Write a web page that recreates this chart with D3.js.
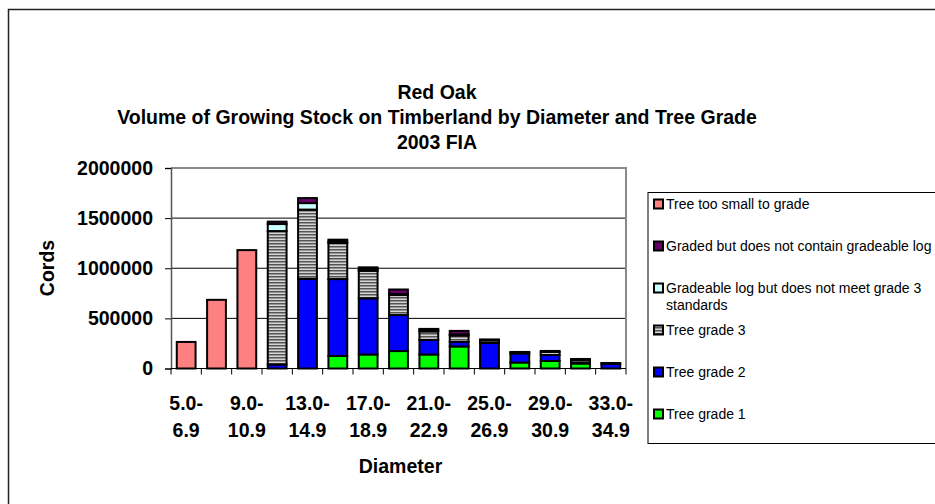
<!DOCTYPE html>
<html><head><meta charset="utf-8">
<script src="https://cdn.jsdelivr.net/npm/d3@7"></script>
<style>
html,body{margin:0;padding:0;background:#fff;}
svg{display:block;font-family:"Liberation Sans",Arial,sans-serif;}
</style></head>
<body>
<svg id="chart" width="935" height="504"></svg>
<script>
const categories = ["5.0-6.9","7.0-8.9","9.0-10.9","11.0-12.9","13.0-14.9","15.0-16.9","17.0-18.9","19.0-20.9","21.0-22.9","23.0-24.9","25.0-26.9","27.0-28.9","29.0-30.9","31.0-32.9","33.0-34.9"];
const treeGrade1 = [0,0,0,0,0,125000,140000,174000,140000,220000,0,60000,75000,50000,0];
const treeGrade2 = [0,0,0,40000,895000,767000,560000,359000,145000,45000,255000,90000,60000,10000,45000];
const treeGrade3 = [0,0,0,1331000,690000,360000,275000,200000,85000,65000,25000,10000,30000,25000,10000];
const gradeableNotMeet = [0,0,0,70000,65000,15000,14000,10000,15000,10000,0,0,0,0,0];
const gradedNoLog = [0,0,0,24000,50000,18000,20000,45000,10000,35000,10000,5000,10000,10000,0];
const tooSmall = [265000,685000,1181000,0,0,0,0,0,0,0,0,0,0,0,0];
const yTicks = [0,500000,1000000,1500000,2000000];
const seriesNames = ["Tree grade 1","Tree grade 2","Tree grade 3","Gradeable log but does not meet grade 3 standards","Graded but does not contain gradeable log","Tree too small to grade"];
const seriesValues = [treeGrade1,treeGrade2,treeGrade3,gradeableNotMeet,gradedNoLog,tooSmall];
const seriesColors = ["#00FF00","#0000FF","url(#g3)","#CCFFFF","#660066","#FF8080"];
const legendLines = [["Tree too small to grade"],["Graded but does not contain gradeable log"],["Gradeable log but does not meet grade 3","standards"],["Tree grade 3"],["Tree grade 2"],["Tree grade 1"]];

const svg = d3.select("#chart");
const defs = svg.append("defs");
const pat = defs.append("pattern").attr("id","g3").attr("patternUnits","userSpaceOnUse").attr("width",4).attr("height",3);
pat.append("rect").attr("width",4).attr("height",3).attr("fill","#d4d4d4");
pat.append("rect").attr("width",4).attr("height",1.5).attr("fill","#555555");

// outer border
svg.append("path").attr("d","M8.5,520 V9.5 H950").attr("fill","none").attr("stroke","#222").attr("stroke-width",1.5);

const L=171, R=626, T=168, B=368.5;
const FS = 19.5;
const x = d3.scaleBand().domain(categories).range([L,R]).paddingInner(0.38).paddingOuter(0.19);
const y = d3.scaleLinear().domain([0,2000000]).range([B,T]);
const step = x.step();

// gridlines
svg.append("g").selectAll("line").data(yTicks.filter(v=>v>0 && v<2000000)).join("line")
  .attr("x1",L).attr("x2",R).attr("y1",d=>y(d)).attr("y2",d=>y(d)).attr("stroke","#000").attr("stroke-width",1);
// top and right plot border
svg.append("path").attr("d",`M${L},${y(2000000)} H${R} V${B}`).attr("fill","none").attr("stroke","#8a8a8a").attr("stroke-width",2);

// stacked bars
const stackData = categories.map((c,i)=>{const o={cat:c}; seriesValues.forEach((s,j)=>o["s"+j]=s[i]); return o;});
const stack = d3.stack().keys(seriesValues.map((s,j)=>"s"+j))(stackData);
const gb = svg.append("g");
stack.forEach((layer,j)=>{
  gb.append("g").selectAll("rect").data(layer.filter(d=>d[1]-d[0]>0)).join("rect")
    .attr("x",d=>x(d.data.cat)).attr("width",x.bandwidth())
    .attr("y",d=>y(d[1])).attr("height",d=>y(d[0])-y(d[1]))
    .attr("fill",seriesColors[j]).attr("stroke","#000").attr("stroke-width",2);
});

// y axis
const ya = svg.append("g").attr("transform",`translate(${L},0)`).call(d3.axisLeft(y).tickValues(yTicks).tickSize(6).tickFormat(d3.format("d")));
ya.select(".domain").attr("stroke","#555").attr("stroke-width",1.5);
ya.selectAll(".tick line").attr("stroke","#000");
ya.selectAll(".tick text").attr("font-size",FS).attr("font-weight","bold").attr("fill","#000").attr("x",-18).attr("font-family","Liberation Sans, Arial, sans-serif");

// x axis line and ticks
svg.append("line").attr("x1",L).attr("x2",R).attr("y1",B).attr("y2",B).attr("stroke","#000").attr("stroke-width",1);
const bounds = categories.map(c=>x(c)-step*0.19).concat([x(categories[categories.length-1])+x.bandwidth()+step*0.19]);
svg.append("g").selectAll("line").data(bounds).join("line")
  .attr("x1",d=>d).attr("x2",d=>d).attr("y1",B).attr("y2",B+6).attr("stroke","#000");
// x labels (every other)
const xl = svg.append("g").selectAll("text").data(categories.filter((c,i)=>i%2===0)).join("text")
  .attr("x",d=>x(d)+x.bandwidth()/2).attr("text-anchor","middle").attr("font-size",FS).attr("font-weight","bold").attr("fill","#000");
xl.append("tspan").attr("x",d=>x(d)+x.bandwidth()/2).attr("y",410).text(d=>d.split("-")[0]+"-");
xl.append("tspan").attr("x",d=>x(d)+x.bandwidth()/2).attr("y",437).text(d=>d.split("-")[1]);

// axis titles
svg.append("text").attr("x",(L+R)/2+2).attr("y",473).attr("text-anchor","middle").attr("font-size",FS).attr("font-weight","bold").text("Diameter");
svg.append("text").attr("transform","translate(54,268) rotate(-90)").attr("text-anchor","middle").attr("font-size",FS).attr("font-weight","bold").text("Cords");

// title
const titles = ["Red Oak","Volume of Growing Stock on Timberland by Diameter and Tree Grade","2003 FIA"];
svg.append("g").selectAll("text").data(titles).join("text")
  .attr("x",437).attr("y",(d,i)=>99+i*25).attr("text-anchor","middle").attr("font-size",FS).attr("font-weight","bold").text(d=>d);

// legend
svg.append("rect").attr("x",648).attr("y",192.5).attr("width",300).attr("height",251).attr("fill","#fff").attr("stroke","#000").attr("stroke-width",1);
const legendColors = seriesColors.slice().reverse();
const lg = svg.append("g").selectAll("g").data(legendLines).join("g").attr("transform",(d,i)=>`translate(0,${204+i*42})`);
lg.append("rect").attr("x",654).attr("y",-4.5).attr("width",9).attr("height",9).attr("fill",(d,i)=>legendColors[i]).attr("stroke","#000").attr("stroke-width",2);
lg.append("text").attr("font-size",14).attr("fill","#000").selectAll("tspan").data(d=>d).join("tspan")
  .attr("x",666).attr("y",(d,i)=>5+i*17).text(d=>d);
</script>
</body></html>
